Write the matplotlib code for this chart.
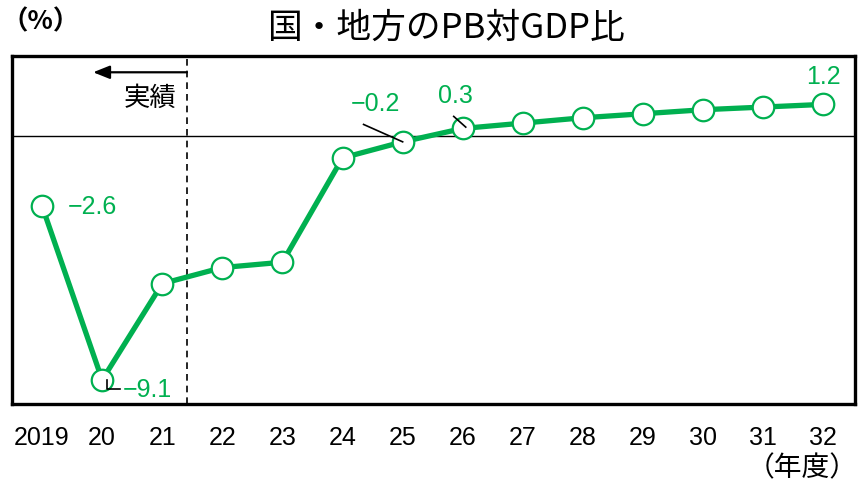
import numpy as np
import matplotlib.pyplot as plt

plt.rcParams['font.family'] = ['Noto Sans CJK JP', 'DejaVu Sans']

years = ['2019', '20', '21', '22', '23', '24', '25', '26', '27', '28', '29', '30', '31', '32']
pb_ratio = [-2.6, -9.1, -5.5, -4.9, -4.7, -0.8, -0.2, 0.3, 0.5, 0.7, 0.85, 1.0, 1.1, 1.2]

GREEN = '#00B050'
NARROW = ['Liberation Sans Narrow', 'Liberation Sans', 'DejaVu Sans']

fig = plt.figure(figsize=(8.58, 4.85), dpi=100)
ax = fig.add_axes([0.014, 0.165, 0.982, 0.717])

x = np.arange(len(years))
ax.axhline(0, color='black', lw=1.0, zorder=1)
ax.plot(x, pb_ratio, color=GREEN, lw=3.8, marker='o', markersize=15.5,
        markerfacecolor='white', markeredgecolor=GREEN, markeredgewidth=1.6,
        zorder=3)

# actual / forecast boundary
ax.axvline(2.41, color='black', lw=1.2, ls=(0, (4, 3)), zorder=2)
ax.annotate('', xy=(0.85, 2.4), xytext=(2.41, 2.4),
            arrowprops=dict(arrowstyle='-|>,head_length=1.0,head_width=0.4',
                            color='black', lw=1.6, shrinkA=0, shrinkB=0))
ax.text(1.8, 1.45, '実績', fontsize=19, ha='center', va='center')

# value labels
lab_kw = dict(color=GREEN, fontsize=18, family=NARROW, va='center')
ax.text(0.43, pb_ratio[0], '\u22122.6', ha='left', **lab_kw)
ax.text(1.35, -9.45, '\u22129.1', ha='left', **lab_kw)
ax.text(5.55, 1.27, '\u22120.2', ha='center', **lab_kw)
ax.text(6.88, 1.55, '0.3', ha='center', **lab_kw)
ax.text(13.0, 2.27, '1.2', ha='center', **lab_kw)

# leader lines
ax.plot([5.35, 6.0], [0.45, -0.2], color='black', lw=1.2, zorder=4)
ax.plot([6.85, 7.05], [0.75, 0.35], color='black', lw=1.2, zorder=4)
ax.plot([1.08, 1.08, 1.3], [-9.1, -9.45, -9.45], color='black', lw=1.2, zorder=4)

ax.set_xlim(-0.5, 13.52)
ax.set_ylim(-10, 3)
ax.set_xticks(x)
ax.set_xticklabels(years, family=NARROW, fontsize=18)
ax.set_yticks([])
ax.tick_params(axis='x', length=0, pad=15)
for s in ax.spines.values():
    s.set_linewidth(2.4)

fig.text(0.52, 0.942, '国・地方のPB対GDP比', fontsize=25, ha='center', va='center')
fig.text(0.002, 0.955, '（%）', fontsize=19, fontweight='bold', ha='left', va='center')
fig.text(1.0, 0.035, '（年度）', fontsize=20, ha='right', va='center')

fig.savefig('out.png', dpi=100)
